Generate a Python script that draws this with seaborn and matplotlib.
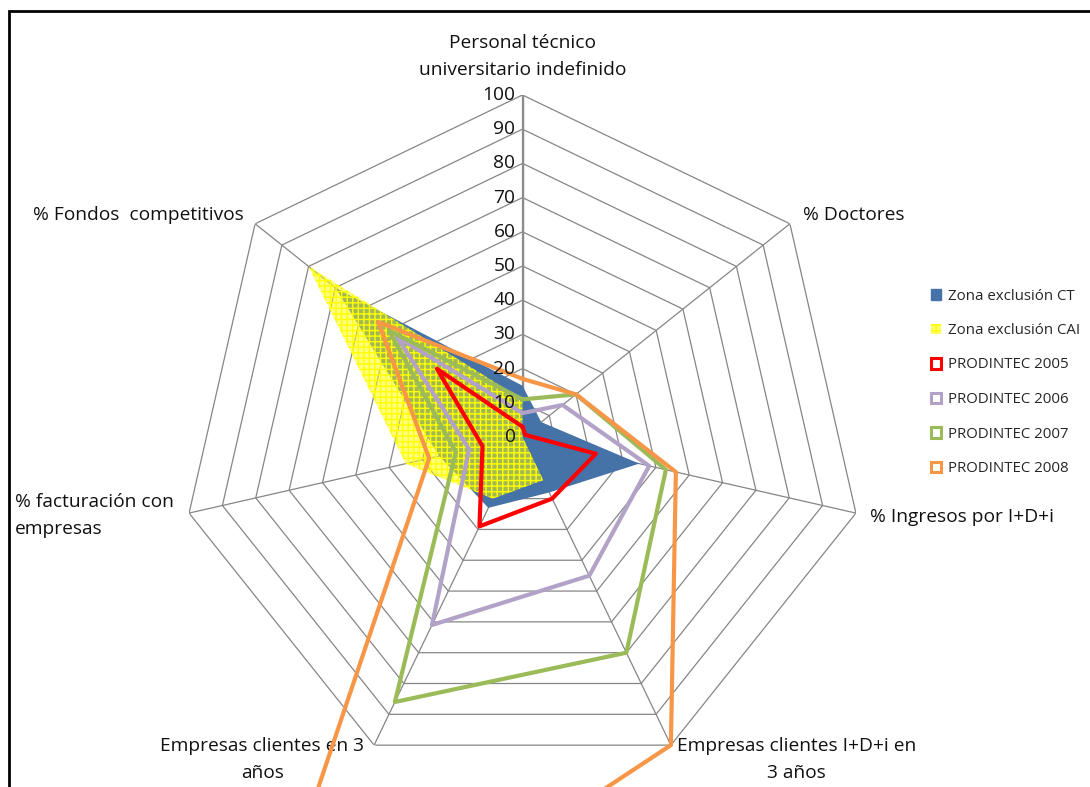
import matplotlib
matplotlib.use("Agg")
import matplotlib.pyplot as plt
import matplotlib.transforms as mtransforms
from matplotlib.patches import Patch, Rectangle
import numpy as np
import pandas as pd
import seaborn as sns

# Axis labels (clockwise from the top)
categories = [
    "Personal técnico\nuniversitario indefinido",
    "% Doctores",
    "% Ingresos por I+D+i",
    "Empresas clientes I+D+i en\n3 años",
    "Empresas clientes en 3\naños",
    "% facturación con\nempresas",
    "% Fondos  competitivos",
]

# Values
zona_ct = [15, 7, 35, 18, 23, 25, 70]
zona_cai = [11, 0, 0, 14, 20, 35, 80]
prod_2005 = [3, 1, 22, 20, 29, 12, 32]
prod_2006 = [7, 15, 38, 45, 61, 16, 47]
prod_2007 = [11, 20, 43, 70, 86, 20, 50]
prod_2008 = [17, 20, 46, 100, 193, 28, 54]

line_names = ["PRODINTEC 2005", "PRODINTEC 2006", "PRODINTEC 2007", "PRODINTEC 2008"]
line_values = [prod_2005, prod_2006, prod_2007, prod_2008]
line_colors = ["#FF0000", "#B3A2C7", "#9BBB59", "#F79646"]
ct_color = "#4572A7"
cai_color = "#FFFF00"
ticks = list(range(0, 101, 10))

sns.set_style("white")
plt.rcParams["font.family"] = ["Open Sans", "DejaVu Sans"]
plt.rcParams["hatch.linewidth"] = 1.0

n = len(categories)
theta = np.linspace(0, 2 * np.pi, n, endpoint=False)
theta_closed = np.append(theta, 2 * np.pi)


def closed(vals):
    return list(vals) + [vals[0]]


fig = plt.figure(figsize=(10.9, 7.87), dpi=100)
W, H = 1090, 787
cx, cy, R = 522.5, 437, 342
ax = fig.add_axes([(cx - R) / W, (H - cy - R) / H, 2 * R / W, 2 * R / H], projection="polar")
ax.set_theta_offset(np.pi / 2)
ax.set_theta_direction(-1)
ax.set_ylim(0, 100)
ax.grid(False)
ax.set_xticks([])
ax.set_yticks([])
ax.spines["polar"].set_visible(False)
ax.patch.set_alpha(0)

# heptagon grid
grid_col = "#868686"
for r in ticks[1:]:
    ax.plot(theta_closed, [r] * (n + 1), color=grid_col, lw=0.9, zorder=1)
for t in theta:
    ax.plot([t, t], [0, 100], color=grid_col, lw=0.9, zorder=1)
ax.plot([0, 0], [0, 100], color="#8C8C8C", lw=1.6, zorder=1)

# exclusion zones
ax.fill(theta_closed, closed(zona_ct), facecolor=ct_color, edgecolor="none", zorder=2)
ax.fill(theta_closed, closed(zona_cai), facecolor=(1, 1, 0, 0.5), edgecolor=cai_color,
        hatch="+++", linewidth=0, zorder=3)

# PRODINTEC series
df = pd.concat(
    [pd.DataFrame({"theta": theta_closed, "valor": closed(v), "serie": name})
     for name, v in zip(line_names, line_values)],
    ignore_index=True,
)
sns.lineplot(data=df, x="theta", y="valor", hue="serie", palette=line_colors,
             hue_order=line_names, sort=False, estimator=None, lw=3.0,
             legend=False, ax=ax, clip_on=False, zorder=4)
ax.set_xlabel("")
ax.set_ylabel("")
ax.set_ylim(0, 100)

# radial tick labels on the top axis
tick_tr = mtransforms.offset_copy(ax.transData, fig=fig, x=-7, y=0, units="dots")
for v in ticks:
    ax.text(0, v, str(v), ha="right", va="center", fontsize=13.8, transform=tick_tr,
            color="#111111", zorder=5)

# category labels
label_pos = [
    (0, 16, "center", "bottom", "center"),
    (13, 9, "left", "center", "left"),
    (14, -4, "left", "center", "left"),
    (6, 8, "left", "top", "center"),
    (-10, 8, "right", "top", "center"),
    (-15, -2, "right", "center", "left"),
    (-11, 9, "right", "center", "left"),
]
for t, lab, (dx, dy, ha, va, ma) in zip(theta, categories, label_pos):
    tr = mtransforms.offset_copy(ax.transData, fig=fig, x=dx, y=dy, units="dots")
    ax.text(t, 100, lab, ha=ha, va=va, multialignment=ma, fontsize=13.75,
            transform=tr, color="#111111", linespacing=1.63)

# legend
handles = [
    Patch(facecolor=ct_color, edgecolor=ct_color),
    Patch(facecolor=(1, 1, 0, 0.6), edgecolor=cai_color, hatch="+++", linewidth=0),
] + [Patch(facecolor="white", edgecolor=c, linewidth=2.2) for c in line_colors]
labels = ["Zona exclusión CT", "Zona exclusión CAI"] + line_names
fig.legend(handles, labels, loc="upper left", bbox_to_anchor=(923 / W, 1 - 281 / H),
           frameon=False, fontsize=10.8, handlelength=0.7, handleheight=0.7,
           handletextpad=0.45, labelspacing=1.3, borderpad=0)

# chart area border (cut by the image edges)
fig.add_artist(Rectangle((8.7 / W, -0.2), 1.5, 1.2 - 10.5 / H, transform=fig.transFigure,
                         fill=False, edgecolor="black", lw=2.0))

fig.savefig("out.png", dpi=100)
